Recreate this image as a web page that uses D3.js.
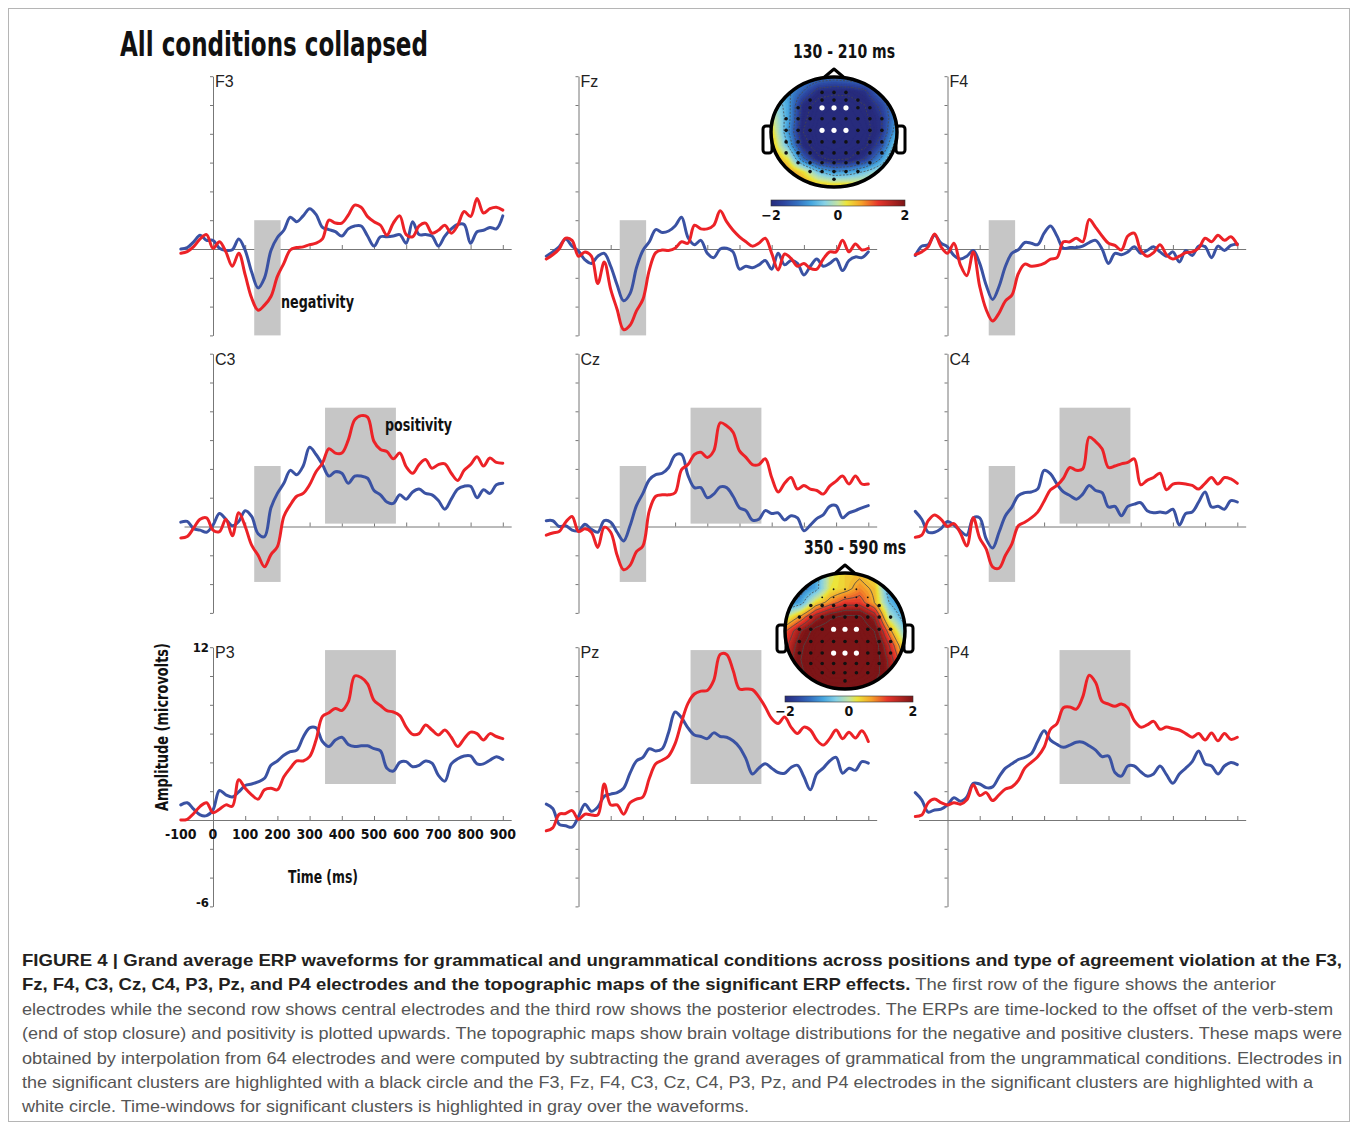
<!DOCTYPE html>
<meta charset="utf-8">
<style>
body { margin: 0; background: #fff; }
.cb { font-family: "Liberation Sans Narrow", "DejaVu Sans Condensed", "Roboto Condensed", sans-serif; font-weight: bold; fill: #111; }
.plabel { font-family: "Liberation Sans", Arial, sans-serif; font-size: 16px; fill: #222; }
.wave { fill: none; stroke-width: 3px; stroke-linejoin: round; stroke-linecap: round; }
.axis path, .axis line { stroke: #777; stroke-width: 1px; }
.caption { font-family: "Liberation Sans", Arial, sans-serif; font-size: 16.5px; }
</style>
<body>
<script src="https://d3js.org/d3.v7.min.js"></script>
<script>

// ---- data ----
var times = d3.range(-100, 901, 20);   // ms, 51 samples

var electrodeNames = ["F3", "Fz", "F4", "C3", "Cz", "C4", "P3", "Pz", "P4"];

// grammatical (blue) and ungrammatical (red) grand averages, microvolts
var f3Gram = [0.0, 0.1, 0.5, 0.95, 0.6, 0.6, 0.05, -0.1, -0.05, 0.7,
  -0.1, -1.6, -2.7, -2.0, -0.1, 0.8, 1.3, 2.2, 1.9, 2.3,
  2.8, 2.4, 1.5, 1.35, 1.2, 0.9, 1.4, 1.6, 1.6, 0.9,
  0.2, 0.85, 0.85, 0.9, 1.0, 0.4, 1.9, 1.0, 1.0, 0.9,
  0.2, 0.9, 1.4, 1.7, 1.7, 0.4, 1.2, 1.3, 1.5, 1.4, 2.3];
var f3Ungram = [-0.3, -0.18, 0.16, 0.7, 1.0, 0.05, 0.5, -0.2, -1.2, -0.3,
  -1.8, -3.4, -4.25, -3.9, -3.3, -1.9, -1.0, -0.07, 0.1, 0.15,
  0.3, 0.4, 0.7, 2.0, 1.8, 1.8, 2.35, 3.05, 2.9, 2.25,
  1.9, 1.65, 0.97, 1.8, 2.3, 1.0, 0.85, 1.6, 1.8, 1.1,
  1.3, 1.65, 1.1, 1.65, 2.6, 2.25, 3.5, 2.5, 2.8, 2.9, 2.7];
var fzGram = [-0.5, -0.2, 0.15, 0.7, 0.2, -0.15, -0.75, -1.0, -0.5, -0.3,
  -1.2, -2.5, -3.6, -3.1, -1.3, -0.1, 0.5, 1.35, 1.15, 1.25,
  1.6, 2.2, 0.8, 0.3, 0.6, -0.3, -0.6, 0.0, 0.05, -0.2,
  -1.4, -1.2, -1.3, -1.1, -0.8, -1.4, -0.3, -1.1, -0.8, -1.0,
  -1.8, -1.2, -0.7, -1.2, -1.0, -0.7, -1.5, -0.8, -0.55, -0.6, -0.2];
var fzUngram = [-0.7, -0.4, 0.0, 0.75, 0.6, -0.5, -0.2, -0.5, -2.4, -0.9,
  -2.8, -4.2, -5.6, -5.3, -4.3, -3.5, -1.45, -0.25, -0.07, -0.1,
  0.05, 0.5, 0.4, 1.65, 1.4, 1.4, 1.65, 2.65, 1.9, 1.3,
  0.85, 0.5, 0.2, 0.4, 0.75, -0.3, -1.45, -0.35, -0.65, -1.2,
  -1.0, -1.35, -1.4, -0.7, -0.2, -0.2, 0.6, -0.2, 0.35, -0.07, 0.05];
var f4Gram = [-0.45, 0.2, 0.3, 0.95, 0.4, 0.15, -0.45, -0.7, -0.5, -0.1,
  -1.0, -2.5, -3.5, -2.6, -1.2, -0.3, -0.05, 0.45, 0.4, 0.3,
  1.1, 1.6, 0.9, 0.05, 0.1, 0.1, 0.2, 0.45, 0.6, 0.0,
  -1.0, -0.3, -0.4, -0.2, 0.15, -0.3, -0.1, 0.15, -0.2, -0.5,
  -0.2, -0.9, -0.1, -0.45, 0.2, 0.15, -0.6, 0.2, -0.1, 0.25, 0.35];
var f4Ungram = [-0.4, -0.2, 0.15, 1.05, 0.15, -0.3, 0.4, -1.1, -1.85, -0.2,
  -2.6, -4.2, -5.0, -4.45, -3.6, -3.2, -1.7, -1.05, -1.2, -1.15,
  -1.0, -0.7, -0.6, 0.5, 0.5, 0.75, 0.5, 2.05, 1.5, 0.9,
  0.4, 0.25, -0.07, 0.9, 1.1, -0.1, -0.5, -0.25, 0.3, -0.4,
  -0.7, -0.5, -0.25, -0.2, 0.05, 0.75, 0.5, 0.95, 0.6, 0.85, 0.3];
var c3Gram = [0.3, 0.35, -0.15, -0.25, -0.4, 0.1, 0.9, 0.5, 0.05, 0.35,
  1.1, 0.7, -0.5, -0.7, 1.3, 2.3, 3.0, 3.9, 3.6, 4.2,
  5.5, 5.0, 4.3, 3.5, 3.8, 3.7, 3.0, 3.5, 3.5, 3.35,
  2.5, 2.2, 1.7, 1.6, 2.2, 1.9, 2.4, 2.6, 2.3, 2.2,
  1.8, 1.2, 1.9, 2.6, 2.8, 2.8, 2.0, 2.55, 2.3, 2.9, 3.0];
var c3Ungram = [-0.8, -0.7, -0.1, 0.5, 0.6, -0.25, -0.35, 0.5, -0.65, 0.95,
  0.0, -1.3, -2.0, -2.8, -1.95, -1.4, 0.7, 1.5, 2.1, 2.3,
  2.9, 3.8, 4.4, 5.4, 5.1, 5.1, 6.0, 7.4, 7.7, 7.6,
  5.9, 5.35, 5.2, 4.7, 5.1, 4.15, 3.7, 4.3, 4.65, 4.05,
  4.3, 4.35, 3.7, 3.2, 3.9, 4.3, 4.85, 4.2, 4.75, 4.45, 4.4];
var czGram = [0.4, 0.4, 0.0, 0.05, -0.25, -0.3, 0.15, -0.2, -0.4, 0.4,
  0.3, -0.4, -1.0, 0.05, 1.45, 2.3, 3.25, 3.6, 3.7, 4.1,
  4.95, 5.0, 3.55, 2.7, 2.7, 2.0, 2.25, 2.75, 2.7, 2.1,
  1.3, 1.1, 0.45, 0.5, 1.1, 0.9, 0.95, 0.45, 0.75, 0.6,
  -0.3, 0.1, 0.55, 0.8, 1.4, 1.45, 0.6, 0.95, 1.1, 1.3, 1.45];
var czUngram = [-0.6, -0.45, -0.35, 0.3, 0.7, -0.35, -0.15, -0.4, -1.45, -0.05,
  -0.4, -2.0, -3.0, -2.7, -1.75, -1.35, 1.1, 2.1, 2.2, 2.2,
  2.35, 3.95, 4.3, 5.0, 5.15, 4.8, 5.25, 7.2, 7.0, 6.55,
  5.25, 4.8, 4.3, 4.3, 4.7, 3.4, 2.4, 3.0, 3.4, 2.6,
  2.85, 2.6, 2.5, 2.25, 2.8, 3.15, 3.5, 2.95, 3.5, 2.95, 2.95];
var c4Gram = [1.05, 0.5, -0.4, -0.4, -0.15, 0.35, 0.1, -0.3, -0.6, 0.6,
  0.6, -0.85, -1.5, -0.4, 0.75, 1.35, 2.15, 2.35, 2.4, 2.6,
  3.9, 3.65, 2.95, 2.4, 2.15, 1.9, 2.25, 2.85, 2.5, 2.35,
  1.35, 1.4, 0.75, 1.4, 1.55, 1.65, 1.1, 0.95, 1.0, 0.95,
  1.2, 0.1, 0.9, 1.0, 1.7, 2.4, 1.35, 1.4, 1.2, 1.8, 1.7];
var c4Ungram = [-0.75, -0.6, 0.4, 0.8, 0.5, 0.0, 0.2, -0.45, -1.35, 0.6,
  -0.8, -1.55, -2.8, -2.9, -2.0, -1.2, 0.05, 0.3, 0.6, 1.0,
  1.75, 2.55, 2.85, 3.35, 4.1, 3.9, 4.0, 6.2, 5.9, 5.4,
  4.1, 4.2, 4.35, 4.45, 4.7, 2.9, 3.2, 3.4, 3.7, 2.55,
  2.95, 3.0, 2.95, 2.85, 2.6, 3.0, 3.4, 2.95, 3.4, 3.3, 3.0];
var p3Gram = [1.05, 1.2, 0.75, 0.35, 0.3, 0.7, 2.05, 1.75, 1.6, 1.95,
  2.4, 2.5, 2.65, 2.9, 3.8, 4.1, 4.5, 4.75, 4.85, 5.75,
  6.4, 6.4, 5.45, 5.1, 5.55, 5.75, 5.25, 5.1, 5.15, 5.15,
  4.95, 4.8, 3.6, 3.4, 4.0, 4.05, 3.7, 3.8, 4.1, 3.95,
  3.1, 2.7, 3.9, 4.25, 4.45, 4.45, 3.9, 3.9, 4.15, 4.4, 4.2];
var p3Ungram = [0.0, 0.05, 0.45, 0.95, 1.2, 0.5, 0.75, 1.05, 0.95, 2.8,
  2.2, 1.75, 1.45, 2.1, 2.2, 2.1, 3.0, 3.6, 4.1, 4.1,
  4.4, 5.55, 7.2, 7.45, 7.75, 7.6, 8.2, 10.0, 9.9, 9.45,
  8.3, 7.95, 7.6, 7.5, 7.25, 6.45, 5.95, 6.0, 6.6, 6.25,
  5.9, 6.25, 5.75, 5.1, 5.65, 6.1, 6.0, 5.55, 6.0, 5.8, 5.65];
var pzGram = [1.1, 0.8, -0.3, -0.4, -0.5, 0.25, 1.1, 0.6, 0.9, 1.65,
  1.8, 1.9, 2.2, 3.25, 4.1, 4.35, 4.95, 4.8, 4.95, 6.1,
  7.5, 7.1, 6.4, 5.9, 5.8, 5.65, 6.05, 5.8, 5.75, 5.5,
  5.05, 4.25, 3.2, 3.6, 3.9, 3.6, 3.3, 3.25, 3.65, 3.8,
  3.0, 2.1, 3.2, 3.6, 4.1, 4.35, 3.25, 3.6, 3.45, 4.05, 3.95];
var pzUngram = [-0.75, -0.55, 0.4, 0.45, 0.65, 0.05, 0.4, 0.35, 0.35, 2.5,
  1.05, 1.05, 0.4, 1.2, 1.45, 1.6, 2.9, 3.9, 4.15, 4.45,
  5.3, 6.8, 8.1, 8.75, 8.95, 9.0, 9.7, 11.5, 11.5, 10.4,
  9.1, 9.1, 9.05, 8.55, 7.85, 7.05, 6.7, 7.15, 6.45, 6.0,
  6.45, 6.25, 5.55, 5.2, 5.65, 6.25, 5.65, 6.1, 5.7, 6.2, 5.45];
var p4Gram = [1.9, 1.4, 0.55, 0.7, 0.75, 1.05, 1.55, 1.3, 1.6, 2.55,
  2.5, 2.25, 2.3, 3.0, 3.6, 3.9, 4.2, 4.35, 4.6, 5.45,
  6.2, 5.55, 5.25, 5.05, 5.2, 5.4, 5.4, 5.15, 4.85, 4.4,
  4.45, 3.3, 3.05, 3.75, 3.75, 3.35, 3.05, 3.2, 3.75, 3.15,
  2.55, 3.2, 3.6, 4.05, 4.8, 3.9, 3.75, 3.2, 3.75, 4.0, 3.85];
var p4Ungram = [0.25, 0.35, 1.2, 1.45, 1.2, 1.05, 1.2, 1.1, 1.4, 2.45,
  1.7, 1.9, 1.35, 1.75, 2.15, 2.3, 2.75, 3.6, 4.0, 4.4,
  5.05, 6.3, 6.7, 7.8, 7.85, 7.7, 8.55, 10.05, 9.55, 8.25,
  8.05, 7.9, 8.05, 7.8, 6.9, 6.45, 6.6, 6.85, 6.3, 6.45,
  6.35, 6.25, 6.0, 5.75, 6.0, 5.55, 6.05, 5.5, 6.0, 5.6, 5.75];

// significant time windows (ms) and the amplitude span of each gray box (microvolts), per row
var negWindow = [128, 210];
var posWindow = [348, 568];
var negBoxUv = [[-6, 2], [-3.85, 4.2], null];
var posBoxUv = [null, [0.2, 8.25], [2.5, 11.8]];

var yTickValues = [-6, -4, -2, 0, 2, 4, 6, 8, 10, 12];
var xTickValues = [100, 200, 300, 400, 500, 600, 700, 800, 900];
var xTickLabels = [-100, 0, 100, 200, 300, 400, 500, 600, 700, 800, 900];

// topographic maps: difference values (ungrammatical - grammatical), 9x9 grid, front at top
var negTopo = [
  [-0.6, -0.8, -1.0, -1.2, -1.3, -1.2, -1.1, -0.9, -0.7],
  [-0.4, -0.9, -1.4, -2.0, -2.1, -2.1, -1.9, -1.2, -0.8],
  [-0.2, -0.8, -2.0, -2.4, -2.5, -2.4, -2.2, -1.7, -1.0],
  [0.1, -0.8, -2.1, -2.5, -2.6, -2.5, -2.3, -1.9, -1.0],
  [0.3, -0.9, -2.2, -2.6, -2.7, -2.6, -2.4, -1.9, -0.8],
  [0.5, -0.6, -2.0, -2.5, -2.6, -2.5, -2.3, -1.6, -0.4],
  [0.8, 0.2, -1.3, -2.1, -2.3, -2.2, -1.8, -1.0, 0.0],
  [1.0, 0.8, 0.3, -0.5, -0.9, -0.8, -0.5, -0.1, 0.1],
  [1.1, 1.0, 0.8, 0.5, 0.4, 0.4, 0.3, 0.2, 0.2]
];
var posTopo = [
  [-1.5, -1.3, -0.8, 0.1, 0.4, 0.5, 0.2, -0.9, -1.3],
  [-1.5, -1.2, -0.8, 0.2, 0.4, 0.8, 0.5, -0.9, -1.3],
  [-1.2, -0.8, 0.3, 0.8, 1.2, 1.2, 0.6, -0.6, -1.1],
  [0.0, 0.7, 1.6, 2.1, 2.3, 2.3, 1.7, -0.1, -0.8],
  [1.0, 1.8, 2.4, 2.6, 2.6, 2.6, 2.2, 0.8, -0.4],
  [1.3, 2.1, 2.6, 2.8, 2.8, 2.7, 2.5, 1.4, 0.2],
  [1.5, 2.2, 2.7, 2.8, 2.8, 2.7, 2.5, 1.7, 0.6],
  [1.5, 2.1, 2.5, 2.7, 2.7, 2.6, 2.4, 1.8, 0.9],
  [1.4, 1.9, 2.2, 2.4, 2.4, 2.3, 2.1, 1.6, 1.0]
];
// 64-channel layout as rows (normalised head y, channel count)
var electrodeRowY = [-0.72, -0.58, -0.44, -0.24, -0.03, 0.18, 0.38, 0.56, 0.72, 0.86];
var electrodeRowN = [3, 5, 7, 9, 9, 9, 9, 7, 5, 1];
var colorbarTicks = [-2, 0, 2];

var captionLines = [
  [["FIGURE 4 | Grand average ERP waveforms for grammatical and ungrammatical conditions across positions and type of agreement violation at the F3,", true]],
  [["Fz, F4, C3, Cz, C4, P3, Pz, and P4 electrodes and the topographic maps of the significant ERP effects.", true], [" The first row of the figure shows the anterior", false]],
  [["electrodes while the second row shows central electrodes and the third row shows the posterior electrodes. The ERPs are time-locked to the offset of the verb-stem", false]],
  [["(end of stop closure) and positivity is plotted upwards. The topographic maps show brain voltage distributions for the negative and positive clusters. These maps were", false]],
  [["obtained by interpolation from 64 electrodes and were computed by subtracting the grand averages of grammatical from the ungrammatical conditions. Electrodes in", false]],
  [["the significant clusters are highlighted with a black circle and the F3, Fz, F4, C3, Cz, C4, P3, Pz, and P4 electrodes in the significant clusters are highlighted with a", false]],
  [["white circle. Time-windows for significant clusters is highlighted in gray over the waveforms.", false]]
];
var captionWidths = [1320, 1254, 1311, 1320, 1320, 1291, 727];

var gramSeries = [f3Gram, fzGram, f4Gram, c3Gram, czGram, c4Gram, p3Gram, pzGram, p4Gram];
var ungramSeries = [f3Ungram, fzUngram, f4Ungram, c3Ungram, czUngram, c4Ungram, p3Ungram, pzUngram, p4Ungram];

// ---- layout ----
var width = 1358, height = 1130;
var colX = [213, 578.5, 947.5];      // pixel of t = 0 ms
var rowZero = [249, 526.5, 820];     // pixel of 0 microvolts
var pxPerMs = 0.322, pxPerUv = 14.4;

var svg = d3.select("body").append("svg")
    .attr("width", width)
    .attr("height", height);

// figure frame
svg.append("rect")
    .attr("x", 8.5).attr("y", 8.5)
    .attr("width", 1341).attr("height", 1113)
    .attr("fill", "none").attr("stroke", "#b5b5b5");

svg.append("text")
    .attr("class", "cb")
    .attr("x", 120).attr("y", 56)
    .attr("font-size", 34)
    .attr("textLength", 308).attr("lengthAdjust", "spacingAndGlyphs")
    .text("All conditions collapsed");

var line = d3.line().curve(d3.curveCatmullRom.alpha(0.5));

electrodeNames.forEach(function(name, i) {
  var r = Math.floor(i / 3), c = i % 3;
  var x0 = colX[c], y0 = rowZero[r];

  var x = d3.scaleLinear().domain([-90, 926]).range([x0 - 90 * pxPerMs, x0 + 926 * pxPerMs]);
  var y = d3.scaleLinear().domain([-6, 12]).range([y0 + 6 * pxPerUv, y0 - 12 * pxPerUv]);

  var g = svg.append("g");

  // y axis, ticks to the left
  g.append("g")
      .attr("class", "axis")
      .attr("transform", "translate(" + x(0) + ",0)")
      .call(d3.axisLeft(y).tickValues(yTickValues).tickSize(3).tickSizeOuter(0).tickFormat(""));

  // x axis on the zero line, ticks upward
  g.append("g")
      .attr("class", "axis")
      .attr("transform", "translate(0," + y(0) + ")")
      .call(d3.axisTop(x).tickValues(xTickValues).tickSize(4).tickSizeOuter(0).tickFormat(""));

  // significant windows
  var boxes = [];
  if (negBoxUv[r]) boxes.push([negWindow, negBoxUv[r]]);
  if (posBoxUv[r]) boxes.push([posWindow, posBoxUv[r]]);
  g.selectAll(".win").data(boxes).enter().append("rect")
      .attr("x", function(d) { return x(d[0][0]); })
      .attr("width", function(d) { return x(d[0][1]) - x(d[0][0]); })
      .attr("y", function(d) { return y(d[1][1]); })
      .attr("height", function(d) { return y(d[1][0]) - y(d[1][1]); })
      .attr("fill", "#c6c6c6");

  // waveforms
  var pts = function(arr) { return arr.map(function(v, k) { return [x(times[k]), y(v)]; }); };
  g.append("path").attr("class", "wave").attr("stroke", "#3a52a3").attr("d", line(pts(gramSeries[i])));
  g.append("path").attr("class", "wave").attr("stroke", "#ec2227").attr("d", line(pts(ungramSeries[i])));

  g.append("text")
      .attr("class", "plabel")
      .attr("x", x(0) + 2).attr("y", y(12) + 11)
      .text(name);

  // full axis annotation on the P3 panel only
  if (name === "P3") {
    g.selectAll(".xl").data(xTickLabels).enter().append("text")
        .attr("class", "cb").attr("font-size", 14)
        .attr("text-anchor", "middle")
        .attr("x", function(d) { return x(d); })
        .attr("y", y(0) + 19)
        .text(function(d) { return d; });
    g.append("text").attr("class", "cb").attr("font-size", 13)
        .attr("text-anchor", "end").attr("x", x(0) - 4).attr("y", y(12) + 5).text("12");
    g.append("text").attr("class", "cb").attr("font-size", 13)
        .attr("text-anchor", "end").attr("x", x(0) - 4).attr("y", y(-6) + 1).text("-6");
    g.append("text").attr("class", "cb").attr("font-size", 18)
        .attr("text-anchor", "middle").attr("x", 323).attr("y", 883)
        .attr("textLength", 70).attr("lengthAdjust", "spacingAndGlyphs")
        .text("Time (ms)");
    g.append("text").attr("class", "cb").attr("font-size", 17)
        .attr("text-anchor", "middle")
        .attr("transform", "translate(168,727) rotate(-90)")
        .attr("textLength", 168).attr("lengthAdjust", "spacingAndGlyphs")
        .text("Amplitude (microvolts)");
  }
});

svg.append("text").attr("class", "cb").attr("font-size", 18)
    .attr("x", 281).attr("y", 308)
    .attr("textLength", 73).attr("lengthAdjust", "spacingAndGlyphs")
    .text("negativity");
svg.append("text").attr("class", "cb").attr("font-size", 18)
    .attr("x", 385).attr("y", 431)
    .attr("textLength", 67).attr("lengthAdjust", "spacingAndGlyphs")
    .text("positivity");

// ---- topographic maps ----
var topoColor = d3.scaleLinear()
    .domain([-2, -1.6, -1.2, -0.8, -0.4, 0, 0.25, 0.7, 1.2, 2])
    .range(["#272b7c", "#2d46a0", "#3470c0", "#46a6df", "#86d1e6", "#c4e3a0", "#ece53b", "#f5a12a", "#e6352b", "#7c1517"])
    .clamp(true);

var defs = svg.append("defs");
var grad = defs.append("linearGradient").attr("id", "jet");
topoColor.domain().forEach(function(v) {
  grad.append("stop").attr("offset", ((v + 2) / 4 * 100) + "%").attr("stop-color", topoColor(v));
});

function upsample(grid, f) {
  var n = grid.length, N = (n - 1) * f + 1, out = new Array(N * N);
  for (var j = 0; j < N; j++) {
    for (var i = 0; i < N; i++) {
      var gx = i / f, gy = j / f;
      var ix = Math.min(Math.floor(gx), n - 2), iy = Math.min(Math.floor(gy), n - 2);
      var tx = gx - ix, ty = gy - iy;
      out[j * N + i] = (1 - ty) * ((1 - tx) * grid[iy][ix] + tx * grid[iy][ix + 1]) +
                       ty * ((1 - tx) * grid[iy + 1][ix] + tx * grid[iy + 1][ix + 1]);
    }
  }
  return { N: N, values: out };
}

function drawTopo(id, grid, title, cx, cy, rx, ry, whiteRows, firstSigRow, barY) {
  var g = svg.append("g");

  g.append("text").attr("class", "cb").attr("font-size", 19)
      .attr("text-anchor", "middle")
      .attr("x", cx + 10).attr("y", cy - ry - 19)
      .attr("textLength", 102).attr("lengthAdjust", "spacingAndGlyphs")
      .text(title);

  // nose and ears
  g.append("path")
      .attr("d", "M" + (cx - 13) + "," + (cy - ry + 3) + "L" + cx + "," + (cy - ry - 8) + "L" + (cx + 13) + "," + (cy - ry + 3))
      .attr("fill", "#fff").attr("stroke", "#000").attr("stroke-width", 3).attr("stroke-linejoin", "round");
  [-1, 1].forEach(function(s) {
    g.append("rect")
        .attr("x", s < 0 ? cx - rx - 8 : cx + rx - 1).attr("y", cy - 6)
        .attr("width", 9).attr("height", 27).attr("rx", 3)
        .attr("fill", "#fff").attr("stroke", "#000").attr("stroke-width", 3);
  });

  defs.append("clipPath").attr("id", id)
    .append("ellipse").attr("cx", cx).attr("cy", cy).attr("rx", rx).attr("ry", ry);

  var up = upsample(grid, 6);
  var levels = d3.range(-3, 3.01, 0.1);
  var contours = d3.contours().size([up.N, up.N]).thresholds(levels)(up.values);
  var geo = d3.geoPath();
  var field = g.append("g").attr("clip-path", "url(#" + id + ")")
    .append("g")
      .attr("transform", "translate(" + (cx - rx) + "," + (cy - ry) + ") scale(" + (2 * rx / up.N) + "," + (2 * ry / up.N) + ")");
  field.selectAll("path.fill").data(contours).enter().append("path")
      .attr("d", geo)
      .attr("fill", function(d) { return topoColor(d.value + 0.05); })
      .attr("stroke", function(d) { return topoColor(d.value + 0.05); })
      .attr("stroke-width", 0.3);

  // iso-lines
  var iso = d3.contours().size([up.N, up.N]).thresholds([-2.2, -1.8, -1.4, -1.0, -0.6, 0.6, 1.0, 1.4, 1.8, 2.2])(up.values);
  field.selectAll("path.iso").data(iso).enter().append("path")
      .attr("d", geo)
      .attr("fill", "none")
      .attr("stroke", "#4a4a4a")
      .attr("stroke-width", 0.8)
      .attr("vector-effect", "non-scaling-stroke")
      .attr("stroke-dasharray", function(d) { return d.value < 0 ? "2,1.5" : null; });

  // electrodes
  var elec = [];
  electrodeRowY.forEach(function(ny, ri) {
    var n = electrodeRowN[ri];
    for (var k = 0; k < n; k++) {
      var nx = (k - (n - 1) / 2) * 0.19;
      var white = whiteRows.indexOf(ri) >= 0 && Math.abs(k - (n - 1) / 2) <= 1;
      elec.push({ x: cx + nx * rx, y: cy + ny * ry, white: white, sig: ri >= firstSigRow });
    }
  });
  g.selectAll("circle.el").data(elec).enter().append("circle")
      .attr("cx", function(d) { return d.x; })
      .attr("cy", function(d) { return d.y; })
      .attr("r", function(d) { return d.white ? 2.6 : (d.sig ? 1.8 : 0.9); })
      .attr("fill", function(d) { return d.white ? "#fff" : "#111"; });

  g.append("ellipse")
      .attr("cx", cx).attr("cy", cy).attr("rx", rx).attr("ry", ry)
      .attr("fill", "none").attr("stroke", "#000").attr("stroke-width", 3.5);

  // colour bar
  var bx = d3.scaleLinear().domain([-2, 2]).range([cx - rx, cx + rx + 8]);
  g.append("rect")
      .attr("x", bx(-2)).attr("y", barY)
      .attr("width", bx(2) - bx(-2)).attr("height", 6)
      .attr("fill", "url(#jet)").attr("stroke", "#333").attr("stroke-width", 0.6);
  g.selectAll("text.ct").data(colorbarTicks).enter().append("text")
      .attr("class", "cb").attr("font-size", 14)
      .attr("text-anchor", "middle")
      .attr("x", function(d) { return bx(d); })
      .attr("y", barY + 20)
      .text(function(d) { return d < 0 ? "\u2212" + Math.abs(d) : d; });
}

drawTopo("clipNeg", negTopo, "130 - 210 ms", 834, 132, 63, 55, [2, 4], 0, 200);
drawTopo("clipPos", posTopo, "350 - 590 ms", 845, 631, 60, 58, [4, 6], 2, 696);

// ---- caption ----
var cap = svg.append("g").attr("class", "caption");
captionLines.forEach(function(segs, li) {
  var t = cap.append("text")
      .attr("x", 22).attr("y", 966 + li * 24.4)
      .attr("textLength", captionWidths[li]).attr("lengthAdjust", "spacingAndGlyphs");
  segs.forEach(function(s) {
    t.append("tspan")
        .attr("font-weight", s[1] ? "bold" : "normal")
        .attr("fill", s[1] ? "#231f20" : "#555")
        .text(s[0]);
  });
});

</script>
</body>
